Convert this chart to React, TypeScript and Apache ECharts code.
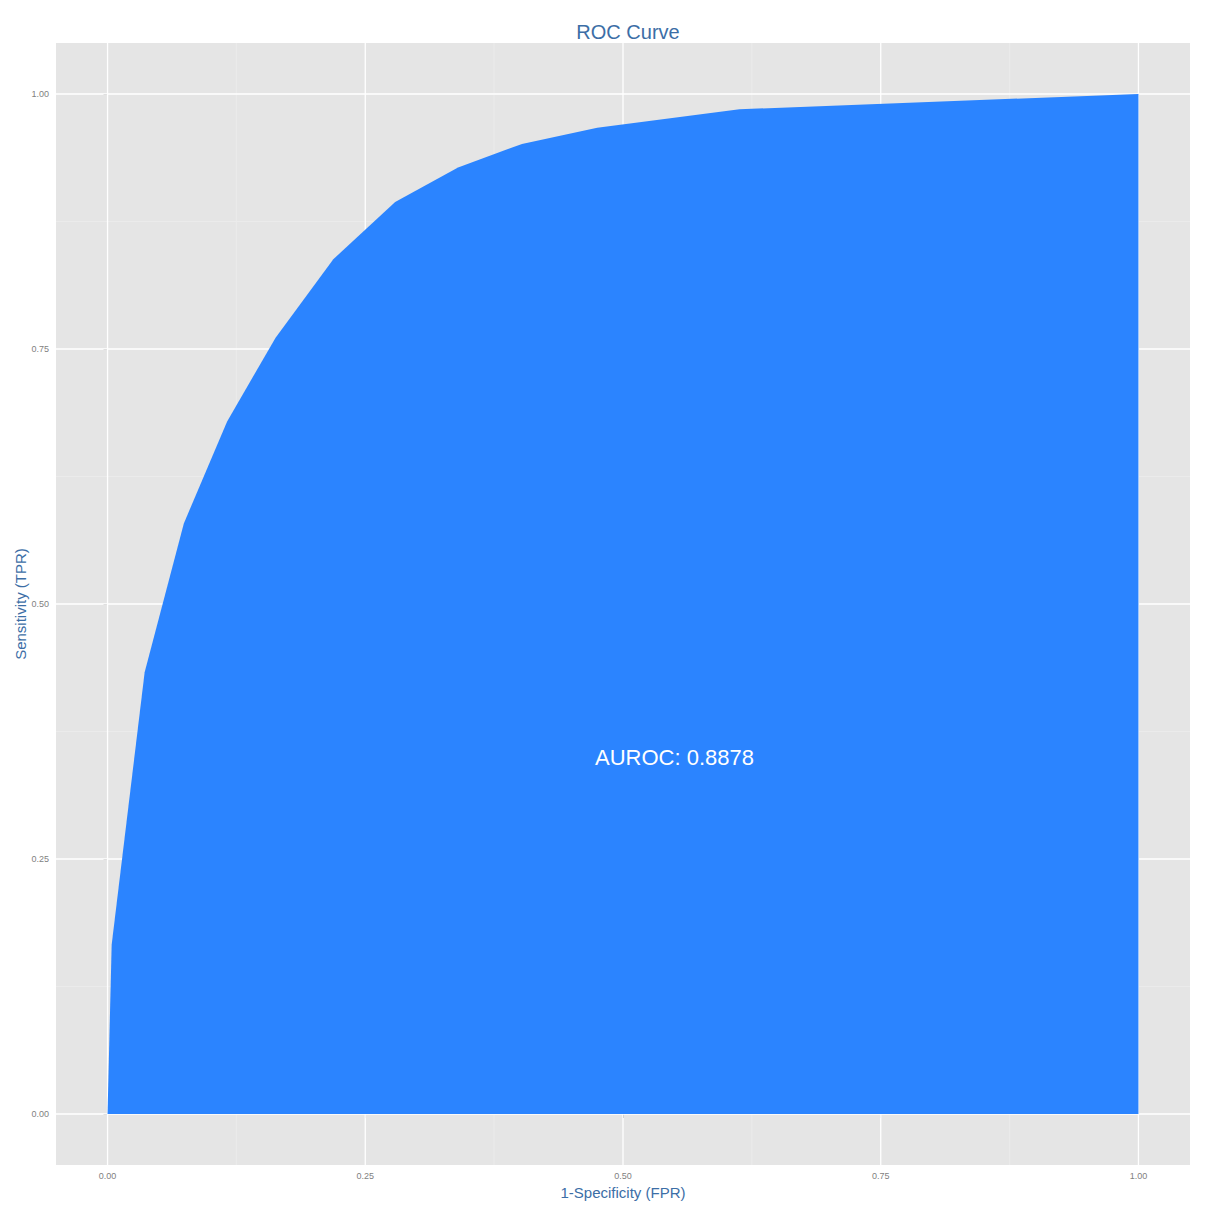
import { useRef, useEffect } from 'react';
import * as echarts from 'echarts';

// ROC curve points
const fpr = [0, 0.004, 0.036, 0.074, 0.116, 0.163, 0.219, 0.279, 0.34, 0.402, 0.475, 0.613, 1];
const tpr = [0, 0.166, 0.433, 0.579, 0.679, 0.761, 0.838, 0.894, 0.928, 0.951, 0.967, 0.985, 1];

const majorTicks = [0, 0.25, 0.5, 0.75, 1];
const minorTicks = [-0.125, 0.125, 0.375, 0.625, 0.875, 1.125];

const aurocText = 'AUROC: 0.8878';
const aurocPos = [0.55, 0.35];

const titleColor = '#3c6ea6';
const tickColor = '#7f7f7f';

export default function App() {
  const chartRef = useRef<HTMLDivElement>(null);

  useEffect(() => {
    let chart: echarts.ECharts | undefined;

    if (chartRef.current) {
      chart = echarts.init(chartRef.current, undefined, { renderer: 'svg' });

      const axisCommon = {
        type: 'value' as const,
        min: -0.05,
        max: 1.05,
        nameLocation: 'middle' as const,
        nameMoveOverlap: false,
        nameTextStyle: { color: titleColor, fontSize: 15, fontFamily: 'Liberation Sans' },
        axisLine: { show: false },
        splitLine: { show: false },
        axisTick: {
          show: true,
          length: 4,
          customValues: majorTicks,
          lineStyle: { color: tickColor, width: 1 },
        },
        axisLabel: {
          customValues: majorTicks,
          formatter: (v: number) => v.toFixed(2),
          fontSize: 9,
          color: tickColor,
          fontFamily: 'Liberation Sans',
        },
      };

      // [value, 0 = vertical / 1 = horizontal, 1 = major]
      const gridData = [
        ...minorTicks.flatMap((v) => [[v, 0, 0], [v, 1, 0]]),
        ...majorTicks.flatMap((v) => [[v, 0, 1], [v, 1, 1]]),
      ];

      chart.setOption({
        animation: false,
        title: {
          text: 'ROC Curve',
          left: 623,
          textAlign: 'center',
          top: 17,
          textStyle: { color: titleColor, fontSize: 20, fontWeight: 'normal', fontFamily: 'Liberation Sans' },
        },
        grid: {
          left: 56,
          right: 20,
          top: 43,
          bottom: 45,
          show: true,
          backgroundColor: '#e5e5e5',
          borderWidth: 0,
          outerBoundsMode: 'none',
        },
        xAxis: { ...axisCommon, name: '1-Specificity (FPR)', nameGap: 20, axisLabel: { ...axisCommon.axisLabel, margin: 6 } },
        yAxis: { ...axisCommon, name: 'Sensitivity (TPR)', nameGap: 28, axisLabel: { ...axisCommon.axisLabel, margin: 7 } },
        series: [
          {
            // panel grid lines, drawn behind the curve
            type: 'custom',
            z: 1,
            silent: true,
            clip: true,
            data: gridData,
            renderItem: (params: any, api: any) => {
              const cs = params.coordSys;
              const v = api.value(0);
              const horizontal = api.value(1) === 1;
              const major = api.value(2) === 1;
              const style = { stroke: major ? '#ffffff' : '#ebebeb', lineWidth: major ? 1.3 : 1 };
              if (horizontal) {
                const py = api.coord([0, v])[1];
                return { type: 'line', shape: { x1: cs.x, y1: py, x2: cs.x + cs.width, y2: py }, style };
              }
              const px = api.coord([v, 0])[0];
              return { type: 'line', shape: { x1: px, y1: cs.y, x2: px, y2: cs.y + cs.height }, style };
            },
          },
          {
            name: 'ROC',
            type: 'line',
            z: 2,
            showSymbol: false,
            silent: true,
            lineStyle: { width: 0 },
            areaStyle: { color: '#2b84ff', opacity: 1 },
            data: fpr.map((x, i) => [x, tpr[i]]),
          },
          {
            type: 'scatter',
            z: 3,
            silent: true,
            symbolSize: 0,
            itemStyle: { opacity: 1 },
            data: [aurocPos],
            label: {
              show: true,
              position: 'inside',
              formatter: aurocText,
              color: '#ffffff',
              opacity: 1,
              textBorderWidth: 0,
              fontSize: 22,
              fontFamily: 'Liberation Sans',
            },
          },
        ],
      });
    }

    return () => {
      chart?.dispose();
    };
  }, []);

  return (
    <div
      ref={chartRef}
      style={{ position: 'fixed', left: 0, top: 0, width: 1210, height: 1210, background: '#fff' }}
    />
  );
}
